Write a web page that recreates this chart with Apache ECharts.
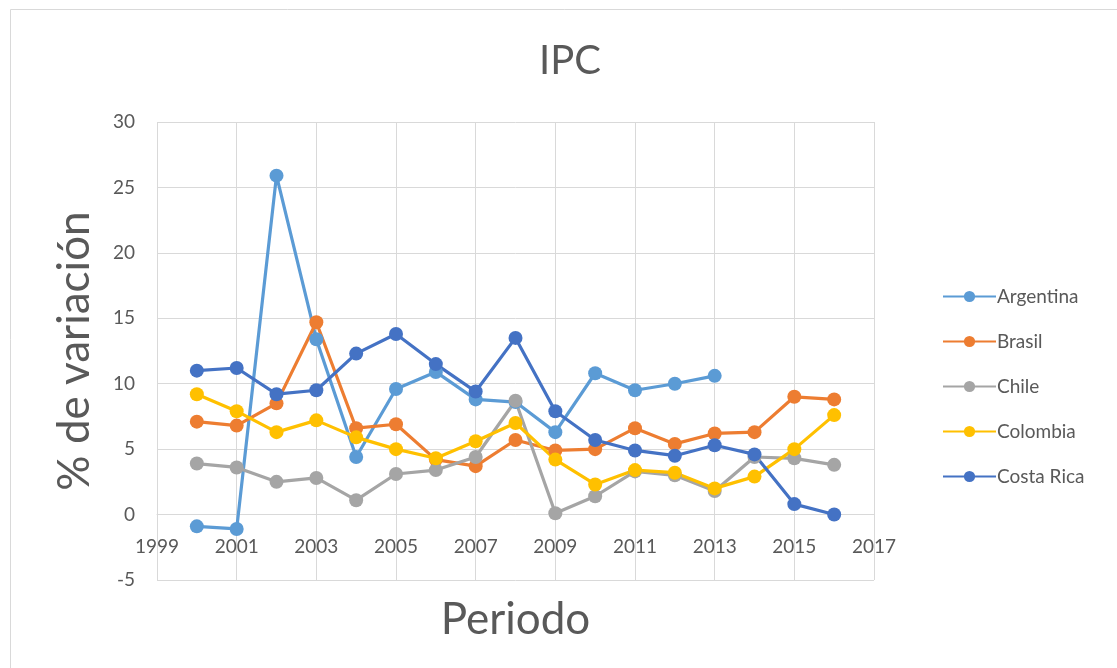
<!DOCTYPE html>
<html>
<head>
<meta charset="utf-8">
<script src="https://cdn.jsdelivr.net/npm/echarts@6/dist/echarts.min.js"></script>
<style>
  html, body { margin: 0; padding: 0; background: #fff; }
  #main { width: 1117px; height: 668px; }
</style>
</head>
<body>
<div id="main"></div>
<script>
var years = [2000, 2001, 2002, 2003, 2004, 2005, 2006, 2007, 2008, 2009, 2010, 2011, 2012, 2013, 2014, 2015, 2016];
var argentina = [-0.9, -1.1, 25.9, 13.4, 4.4, 9.6, 10.9, 8.8, 8.6, 6.3, 10.8, 9.5, 10.0, 10.6, null, null, null];
var brasil = [7.1, 6.8, 8.5, 14.7, 6.6, 6.9, 4.2, 3.7, 5.7, 4.9, 5.0, 6.6, 5.4, 6.2, 6.3, 9.0, 8.8];
var chile = [3.9, 3.6, 2.5, 2.8, 1.1, 3.1, 3.4, 4.4, 8.7, 0.1, 1.4, 3.3, 3.0, 1.8, 4.4, 4.3, 3.8];
var colombia = [9.2, 7.9, 6.3, 7.2, 5.9, 5.0, 4.3, 5.6, 7.0, 4.2, 2.3, 3.4, 3.2, 2.0, 2.9, 5.0, 7.6];
var costaRica = [11.0, 11.2, 9.2, 9.5, 12.3, 13.8, 11.5, 9.4, 13.5, 7.9, 5.7, 4.9, 4.5, 5.3, 4.6, 0.8, 0.0];

var names = ['Argentina', 'Brasil', 'Chile', 'Colombia', 'Costa Rica'];
var colors = ['#5B9BD5', '#ED7D31', '#A5A5A5', '#FFC000', '#4472C4'];
var values = [argentina, brasil, chile, colombia, costaRica];

function pairs(arr) {
    return years.map(function (y, i) { return [y, arr[i]]; });
}

var font = 'Lato, "Open Sans", sans-serif';
var chart = echarts.init(document.getElementById('main'));

// el eje x cruza en 0: desplazado 5 unidades hacia arriba (altura del grid 458 / 35)
var xOffset = -5 * 458 / 35;

var option = {
    animation: false,
    color: colors,
    textStyle: { fontFamily: font },
    graphic: [{
        type: 'rect',
        shape: { x: 10.5, y: 9.5, width: 1120, height: 680 },
        style: { fill: 'none', stroke: '#d9d9d9', lineWidth: 1 }
    }],
    title: {
        text: 'IPC',
        left: 565,
        textAlign: 'center',
        top: 36,
        textStyle: { fontFamily: font, fontSize: 40, fontWeight: 'normal', color: '#595959' }
    },
    legend: {
        orient: 'vertical',
        left: 937,
        top: 282,
        itemWidth: 53,
        itemHeight: 14,
        itemGap: 26,
        textStyle: { fontFamily: font, fontSize: 19, color: '#595959', padding: [0, 0, 0, -4] },
        data: names
    },
    grid: { left: 157, right: 243, top: 122, bottom: 88, containLabel: false, outerBoundsMode: 'none' },
    xAxis: {
        type: 'value',
        min: 1999,
        max: 2017,
        interval: 2,
        offset: xOffset,
        name: 'Periodo',
        nameLocation: 'middle',
        nameGap: 83,
        nameTextStyle: { fontFamily: font, fontSize: 44, color: '#595959' },
        axisLine: { onZero: false, lineStyle: { color: '#d9d9d9', width: 1 } },
        axisTick: { show: false },
        axisLabel: {
            fontFamily: font, fontSize: 19, color: '#595959', margin: 23,
            formatter: function (v) { return String(v); }
        },
        splitLine: { show: true, lineStyle: { color: '#d9d9d9', width: 1 } }
    },
    yAxis: {
        type: 'value',
        min: -5,
        max: 30,
        interval: 5,
        name: '% de variación',
        nameLocation: 'middle',
        nameGap: 60,
        nameTextStyle: { fontFamily: font, fontSize: 44, color: '#595959' },
        axisLine: { show: false },
        axisTick: { show: false },
        axisLabel: { fontFamily: font, fontSize: 19, color: '#595959', margin: 22 },
        splitLine: { show: true, lineStyle: { color: '#d9d9d9', width: 1 } }
    },
    series: names.map(function (n, i) {
        return {
            name: n,
            type: 'line',
            data: pairs(values[i]),
            symbol: 'circle',
            symbolSize: 14,
            connectNulls: false,
            lineStyle: { width: 3.2, color: colors[i] },
            itemStyle: { color: colors[i] }
        };
    })
};
chart.setOption(option);
</script>
</body>
</html>
